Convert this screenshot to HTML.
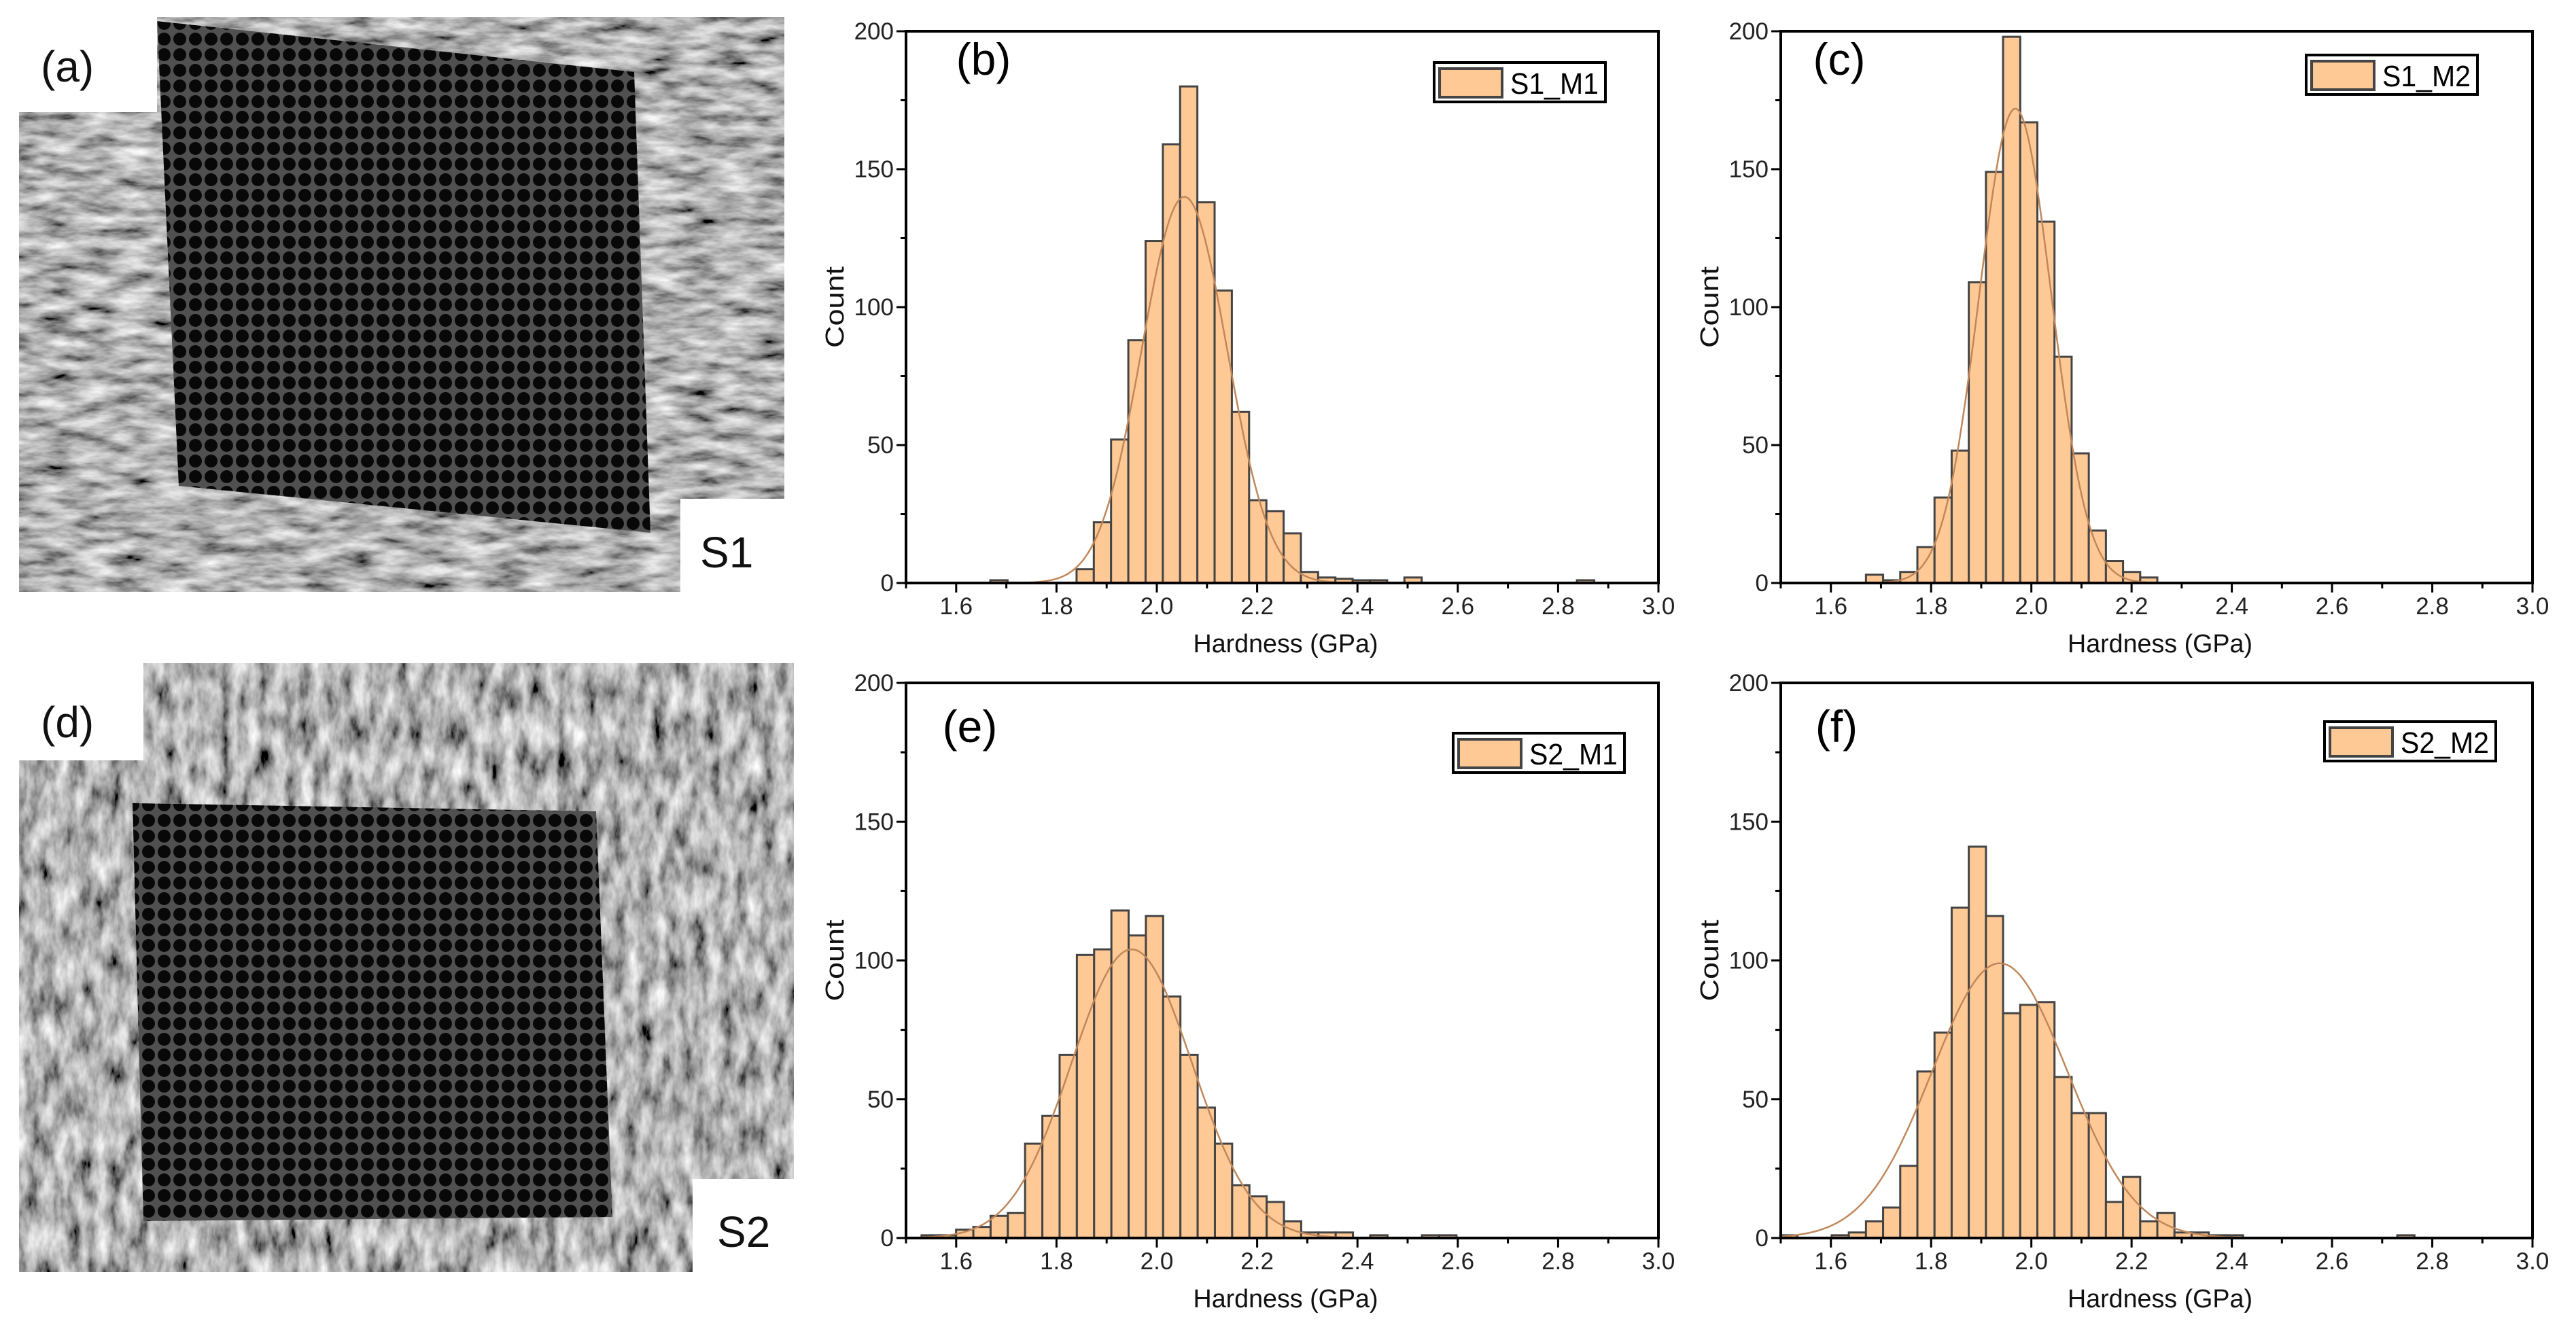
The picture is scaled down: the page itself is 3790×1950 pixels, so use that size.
<!DOCTYPE html>
<html><head><meta charset="utf-8">
<style>
html,body{margin:0;padding:0;background:#fff;}
svg{display:block;}
text{font-family:"Liberation Sans",Arial,sans-serif;}
</style></head>
<body>
<svg id="fig" xmlns="http://www.w3.org/2000/svg" width="3790" height="1950" viewBox="0 0 3790 1950">
<defs>
  <filter id="mottle" x="0" y="0" width="100%" height="100%">
    <feTurbulence type="fractalNoise" baseFrequency="0.018 0.06" numOctaves="4" seed="7" result="n"/>
    <feColorMatrix in="n" type="matrix" values="1.3 0 0 0 -0.2  1.3 0 0 0 -0.2  1.3 0 0 0 -0.2  0 0 0 0 1"/>
  </filter>
  <filter id="mottle2" x="0" y="0" width="100%" height="100%">
    <feTurbulence type="fractalNoise" baseFrequency="0.05 0.02" numOctaves="4" seed="11" result="n"/>
    <feColorMatrix in="n" type="matrix" values="1.3 0 0 0 -0.2  1.3 0 0 0 -0.2  1.3 0 0 0 -0.2  0 0 0 0 1"/>
  </filter>
  <pattern id="dots" width="23" height="23" patternUnits="userSpaceOnUse">
    <rect width="23" height="23" fill="#505050"/>
    <circle cx="11.5" cy="11.5" r="9.5" fill="#080808"/>
  </pattern>
</defs>

<g>
  <rect x="28" y="25" width="1126" height="846" fill="#888" filter="url(#mottle)"/>
  <polygon points="231,31 933,106 957,784 263,715" fill="url(#dots)"/>
  <rect x="0" y="0" width="231" height="165" fill="#fff"/>
  <rect x="1001" y="734" width="160" height="140" fill="#fff"/>
  <text x="60" y="120" font-size="64" fill="#111">(a)</text>
  <text x="1030" y="835" font-size="64" fill="#111">S1</text>
</g>
<g>
  <rect x="28" y="976" width="1140" height="896" fill="#888" filter="url(#mottle2)"/>
  <polygon points="195,1182 877,1194 901,1791 211,1797" fill="url(#dots)"/>
  <rect x="0" y="960" width="211" height="159" fill="#fff"/>
  <rect x="1019" y="1735" width="160" height="140" fill="#fff"/>
  <text x="60" y="1085" font-size="64" fill="#111">(d)</text>
  <text x="1055" y="1835" font-size="64" fill="#111">S2</text>
</g>
<g id="charts"></g>
</svg>
<script>
// ---- data ----
const xTicks = [1.6, 1.8, 2.0, 2.2, 2.4, 2.6, 2.8, 3.0];
const xTickLabels = ["1.6", "1.8", "2.0", "2.2", "2.4", "2.6", "2.8", "3.0"];
const yTicks = [0, 50, 100, 150, 200];
const yTickLabels = ["0", "50", "100", "150", "200"];
const seriesNames = ["S1_M1", "S1_M2", "S2_M1", "S2_M2"];
const panelLabels = ["(b)", "(c)", "(e)", "(f)"];
const binStarts = [1.668, 1.670, 1.531, 1.499];
const binWidths = [0.0344, 0.0342, 0.0344, 0.0342];
const countsB = [1,0,0,0,0,5,22,52,88,124,159,180,138,106,62,30,26,18,4,2,1.5,1,1,0,2,0,0,0,0,0,0,0,0,0,1];
const countsC = [3,1,4,13,31,48,109,149,198,167,131,82,47,19,8,4,2];
const countsE = [1,1,3,4,8,9,34,44,66,102,104,118,109,116,87,66,47,34,19,15,13,6,2,2,2,0,1,0,0,1,1];
const countsF = [1,0,0,1,2,6,11,26,60,74,119,141,116,81,84,85,58,45,45,13,22,6,9,2,2,1,1,0,0,0,0,0,0,0,0,0,1];
const fitMeans = [2.055, 1.968, 1.950, 1.937];
const fitSigmas = [0.085, 0.072, 0.12, 0.135];
const fitPeaks = [140, 172, 104, 99];

// ---- layout ----
const layouts = [
  {L:1333,R:2440,T:46,B:858, lgX:2110,lgY:92, lbX:1447,lbY:110},
  {L:2620,R:3726,T:46,B:858, lgX:3393,lgY:81, lbX:2706,lbY:110},
  {L:1333,R:2440,T:1005,B:1822, lgX:2138,lgY:1079, lbX:1427,lbY:1092},
  {L:2620,R:3726,T:1005,B:1822, lgX:3420,lgY:1062, lbX:2702,lbY:1092}
];
const allCounts = [countsB, countsC, countsE, countsF];
const XMIN = 1.5, XMAX = 3.0, YMAX = 200;
const NS = "http://www.w3.org/2000/svg";
const root = document.getElementById('charts');
function mk(tag, attrs, parent){
  const e = document.createElementNS(NS, tag);
  for (const k in attrs) e.setAttribute(k, attrs[k]);
  parent.appendChild(e);
  return e;
}
layouts.forEach((lay, ci) => {
  const xs = v => lay.L + (v - XMIN) / (XMAX - XMIN) * (lay.R - lay.L);
  const ys = v => lay.B - v / YMAX * (lay.B - lay.T);
  const g = mk('g', {}, root);
  
  
  const counts = allCounts[ci];
  counts.forEach((c, i) => {
    if (c <= 0) return;
    const x0 = xs(binStarts[ci] + i * binWidths[ci]);
    const x1 = xs(binStarts[ci] + (i + 1) * binWidths[ci]);
    const r = mk('rect', {x:x0, y:ys(c), width:x1 - x0, height:ys(0) - ys(c), fill:'#FFC995', stroke:'#444', 'stroke-width':3}, g);
    
    
  });
  let d = '';
  for (let k = 0; k <= 300; k++) {
    const v = XMIN + (XMAX - XMIN) * k / 300;
    const y = fitPeaks[ci] * Math.exp(-0.5 * Math.pow((v - fitMeans[ci]) / fitSigmas[ci], 2));
    d += (k ? 'L' : 'M') + xs(v).toFixed(1) + ',' + ys(y).toFixed(1);
  }
  const fit = mk('path', {d:d, fill:'none', stroke:'#C0875A', 'stroke-width':2.5}, g);
  
  
  const fr = mk('rect', {x:lay.L, y:lay.T, width:lay.R - lay.L, height:lay.B - lay.T, fill:'none', stroke:'#000', 'stroke-width':4}, g);
  
  
  for (let v = 1.5; v <= 3.0001; v += 0.1) {
    const major = Math.abs(Math.round(v * 10) % 2) === 0;
    mk('line', {x1:xs(v), x2:xs(v), y1:lay.B, y2:lay.B + (major ? 14 : 8), stroke:'#000', 'stroke-width':3}, g);
  }
  xTicks.forEach((v, i) => {
    const t = mk('text', {x:xs(v), y:lay.B + 46, 'font-size':35, 'text-anchor':'middle', fill:'#222'}, g);
    t.textContent = xTickLabels[i];
    
    
  });
  for (let v = 0; v <= 200; v += 25) {
    const major = v % 50 === 0;
    mk('line', {x1:lay.L, x2:lay.L - (major ? 14 : 8), y1:ys(v), y2:ys(v), stroke:'#000', 'stroke-width':3}, g);
  }
  yTicks.forEach((v, i) => {
    const t = mk('text', {x:lay.L - 18, y:ys(v) + 12, 'font-size':35, 'text-anchor':'end', fill:'#222'}, g);
    t.textContent = yTickLabels[i];
    
    
  });
  const xt = mk('text', {x:(lay.L + lay.R) / 2 + 5, y:lay.B + 102, 'font-size':38, 'text-anchor':'middle', fill:'#111', textLength:272, lengthAdjust:'spacingAndGlyphs'}, g);
  xt.textContent = 'Hardness (GPa)';
  
  
  const cy = (lay.T + lay.B) / 2;
  const yt = mk('text', {x:lay.L - 92, y:cy, 'font-size':38, 'text-anchor':'middle', fill:'#111', transform:'rotate(-90 ' + (lay.L - 92) + ' ' + cy + ')', textLength:120, lengthAdjust:'spacingAndGlyphs'}, g);
  yt.textContent = 'Count';
  
  
  const pl = mk('text', {x:lay.lbX, y:lay.lbY, 'font-size':66, 'text-anchor':'middle', fill:'#000'}, g);
  pl.textContent = panelLabels[ci];
  
  
  const lg = mk('g', {}, g);
  
  
  mk('rect', {x:lay.lgX, y:lay.lgY, width:252, height:58, fill:'#fff', stroke:'#000', 'stroke-width':4}, lg);
  mk('rect', {x:lay.lgX + 8, y:lay.lgY + 9, width:92, height:42, fill:'#FFC995', stroke:'#444', 'stroke-width':4}, lg);
  const lt = mk('text', {x:lay.lgX + 112, y:lay.lgY + 46, 'font-size':44, fill:'#000', textLength:130, lengthAdjust:'spacingAndGlyphs'}, lg);
  lt.textContent = seriesNames[ci];
});
</script>
</body></html>
